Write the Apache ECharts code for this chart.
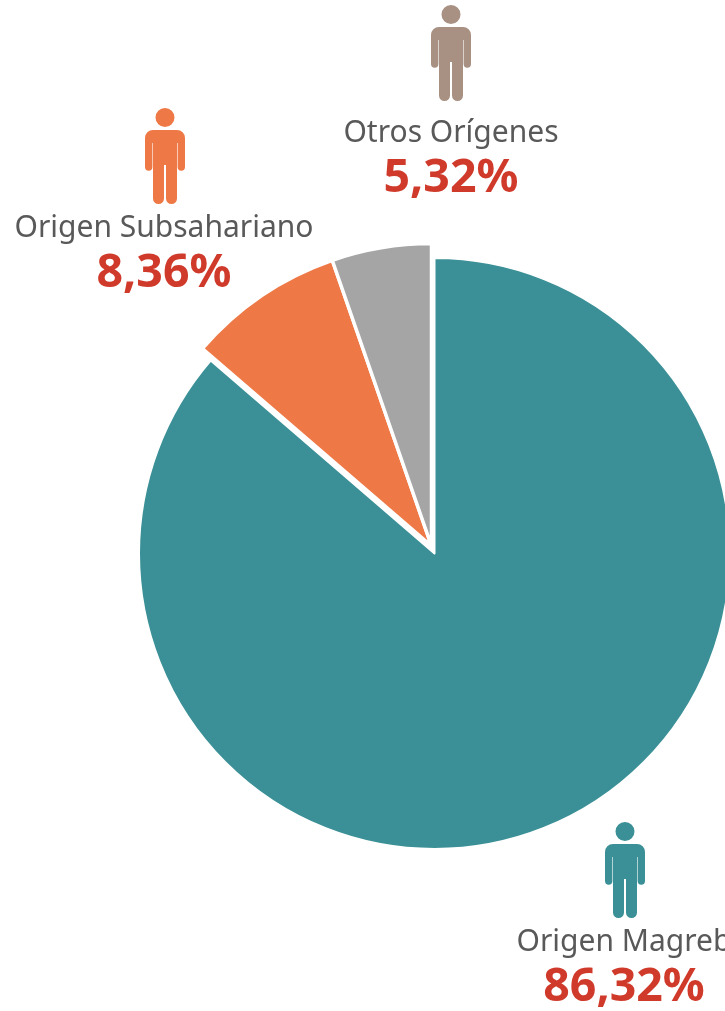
<!DOCTYPE html>
<html>
<head>
<meta charset="utf-8">
<style>
  html, body { margin: 0; padding: 0; background: #fff; }
  #main { width: 725px; height: 1011px; }
</style>
<script src="https://cdn.jsdelivr.net/npm/echarts@6/dist/echarts.min.js"></script>
</head>
<body>
<div id="main"></div>
<script>
var categories = ['Origen Magreb', 'Origen Subsahariano', 'Otros Orígenes'];
var values = [86.32, 8.36, 5.32];
var sliceColors = ['#3A9096', '#EE7947', '#A5A5A5'];
var iconColors = ['#3A9096', '#EE7947', '#A89082'];
var labelSpots = [[624, 965], [164, 251], [451, 156]];
var iconSpots = [[605, 822], [145, 108], [431, 5]];

var personPath = 'M20 0A9.5 9.5 0 1 1 19.99 0Z' +
  'M8 22H32A8 8 0 0 1 40 30V59A3.7 3.7 0 0 1 32.6 59V35H32V90.5A5.5 5.5 0 0 1 21 90.5V57H19V90.5' +
  'A5.5 5.5 0 0 1 8 90.5V35H7.4V59A3.7 3.7 0 0 1 0 59V30A8 8 0 0 1 8 22Z';

function pieData(shown, border) {
  return categories.map(function (name, i) {
    var on = shown.indexOf(i) !== -1;
    return {
      name: name,
      value: values[i],
      itemStyle: on ? { color: sliceColors[i], borderColor: '#fff', borderWidth: border } : { color: 'transparent', borderWidth: 0 },
      label: { show: on }
    };
  });
}

var labelStyle = {
  position: 'inside',
  formatter: function (p) {
    return '{n|' + p.name + '}\n{v|' + p.value.toFixed(2).replace('.', ',') + '%}';
  },
  rich: {
    n: { fontFamily: 'Noto Sans', fontSize: 30, color: '#595959', lineHeight: 45, align: 'center' },
    v: { fontFamily: 'Noto Sans', fontWeight: 'bold', fontSize: 46.5, color: '#D03A2B', lineHeight: 45, align: 'center' }
  }
};

function spotLayout(p) {
  var s = labelSpots[p.dataIndex];
  return { x: s[0], y: s[1], align: 'center', verticalAlign: 'middle', hideOverlap: false, moveOverlap: false };
}

var myChart = echarts.init(document.getElementById('main'), null, { renderer: 'canvas' });

var option = {
  animation: false,
  series: [
    {
      type: 'pie',
      center: [434.5, 553.5],
      radius: 295.5,
      startAngle: 90,
      clockwise: true,
      silent: true,
      avoidLabelOverlap: false,
      labelLine: { show: false },
      label: labelStyle,
      labelLayout: spotLayout,
      data: pieData([0], 2)
    },
    {
      type: 'pie',
      center: [431.5, 546],
      radius: 302.5,
      startAngle: 90,
      clockwise: true,
      silent: true,
      avoidLabelOverlap: false,
      labelLine: { show: false },
      label: labelStyle,
      labelLayout: spotLayout,
      data: pieData([1, 2], 3.5)
    },
    {
      // person icons
      type: 'custom',
      coordinateSystem: 'none',
      silent: true,
      data: [0, 1, 2],
      renderItem: function (params) {
        var s = iconSpots[params.dataIndex];
        return {
          type: 'path',
          x: s[0],
          y: s[1],
          shape: { pathData: personPath, x: 0, y: 0, width: 40, height: 96, layout: 'cover' },
          style: { fill: iconColors[params.dataIndex] }
        };
      }
    }
  ]
};
option && myChart.setOption(option);
</script>
</body>
</html>
